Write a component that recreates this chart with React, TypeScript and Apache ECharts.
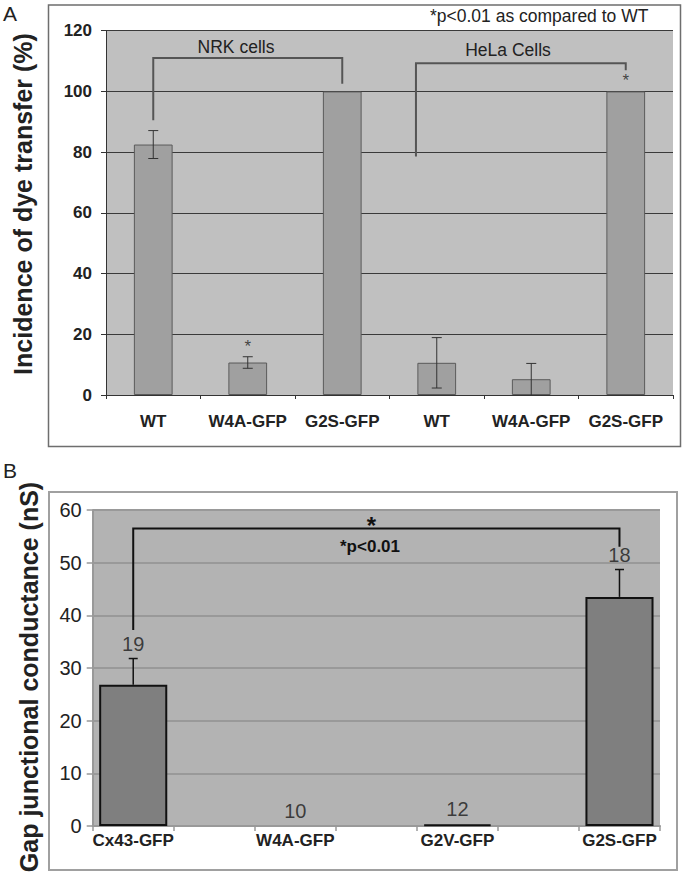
import React, { useEffect, useRef } from "react";
import * as echarts from "echarts";

// Panel A data
const catsA = ["WT", "W4A-GFP", "G2S-GFP", "WT", "W4A-GFP", "G2S-GFP"];
const valuesA = [82.5, 10.7, 100, 10.6, 5.2, 100];
const errA = [4.6, 1.9, 0, 8.3, 5.2, 0];
const starA = [false, true, false, false, false, true];
const ticksA = [0, 20, 40, 60, 80, 100, 120];
const nrkBracket = [[0, 90.5], [0, 111], [2, 111], [2, 102.5]];
const helaBracket = [[2.78, 78.6], [2.78, 109.3], [5, 109.3], [5, 107]];

// Panel B data
const catsB = ["Cx43-GFP", "", "W4A-GFP", "", "G2V-GFP", "", "G2S-GFP"];
const valuesB: (number | null)[] = [26.8, null, 0, null, 0.3, null, 43.5];
const errB: (number | null)[] = [5.0, null, 0, null, 0, null, 5.2];
const countsB = ["19", "", "10", "", "12", "", "18"];
const ticksB = [0, 10, 20, 30, 40, 50, 60];
const sigBracket = [[0, 37.2], [0, 56.5], [6, 56.5], [6, 53]];

const FONT = "'Liberation Sans', Arial, sans-serif";

export default function App() {
  const ref = useRef<HTMLDivElement>(null);
  useEffect(() => {
    if (!ref.current) return;
    const chart = echarts.init(ref.current, null, { renderer: "svg", width: 683, height: 872 });

    const errRender = (capHalf: number, color: string, width: number, both: boolean) =>
      (params: any, api: any) => {
        const x = api.value(0);
        const m = api.value(1);
        const e = api.value(2);
        if (!e) return null;
        const top = api.coord([x, m + e]);
        const bot = api.coord([x, both ? Math.max(0, m - e) : m]);
        const style = { stroke: color, lineWidth: width };
        const children: any[] = [
          { type: "line", shape: { x1: top[0], y1: top[1], x2: bot[0], y2: bot[1] }, style },
          { type: "line", shape: { x1: top[0] - capHalf, y1: top[1], x2: top[0] + capHalf, y2: top[1] }, style },
        ];
        if (both && m - e > 0) {
          children.push({ type: "line", shape: { x1: bot[0] - capHalf, y1: bot[1], x2: bot[0] + capHalf, y2: bot[1] }, style });
        }
        return { type: "group", children };
      };

    const bracketRender = (pts: number[][], color: string, width: number) => (params: any, api: any) => ({
      type: "polyline",
      shape: { points: pts.map((p) => api.coord(p)) },
      style: { stroke: color, lineWidth: width, fill: "none" },
    });

    const option: any = {
      animation: false,
      textStyle: { fontFamily: FONT },
      grid: [
        { left: 106, right: 10, top: 30.7, bottom: 477, show: true, backgroundColor: "#c0c0c0", borderWidth: 0 },
        { left: 92.7, right: 23, top: 510, bottom: 46, show: true, backgroundColor: "#b3b3b3", borderWidth: 0 },
      ],
      xAxis: [
        {
          type: "category", gridIndex: 0, data: catsA,
          axisLine: { onZero: false, lineStyle: { color: "#333", width: 1 } },
          axisTick: { show: true, length: 4, lineStyle: { color: "#333" } },
          axisLabel: { fontFamily: FONT, fontWeight: "bold", fontSize: 17, color: "#222", margin: 18, interval: 0 },
        },
        { type: "value", gridIndex: 0, min: -0.5, max: 5.5, show: false },
        {
          type: "category", gridIndex: 1, data: catsB,
          axisLine: { onZero: false, lineStyle: { color: "#999", width: 2 } },
          axisTick: { show: true, length: 5, interval: 0, lineStyle: { color: "#999", width: 1.5 } },
          axisLabel: { fontFamily: FONT, fontWeight: "bold", fontSize: 17, color: "#222", margin: 6, interval: 0 },
        },
        { type: "value", gridIndex: 1, min: -0.5, max: 6.5, show: false },
      ],
      yAxis: [
        {
          type: "value", gridIndex: 0, min: ticksA[0], max: ticksA[ticksA.length - 1], interval: 20,
          axisLine: { show: true, onZero: false, lineStyle: { color: "#333", width: 1 } },
          axisTick: { show: true, length: 5, lineStyle: { color: "#333" } },
          axisLabel: { fontFamily: FONT, fontWeight: "bold", fontSize: 17, color: "#222", margin: 14 },
          splitLine: { show: true, lineStyle: { color: "#3a3a3a", width: 1 } },
        },
        {
          type: "value", gridIndex: 1, min: ticksB[0], max: ticksB[ticksB.length - 1], interval: 10,
          axisLine: { show: true, onZero: false, lineStyle: { color: "#999", width: 2 } },
          axisTick: { show: true, length: 6, lineStyle: { color: "#999", width: 1.5 } },
          axisLabel: { fontFamily: FONT, fontSize: 20, color: "#222", margin: 11 },
          splitLine: { show: true, lineStyle: { color: "#999", width: 2 } },
        },
      ],
      series: [
        {
          type: "bar", xAxisIndex: 0, yAxisIndex: 0, data: valuesA, barWidth: "41%",
          itemStyle: { color: "#a0a0a0", borderColor: "#5a5a5a", borderWidth: 1 },
        },
        {
          type: "custom", xAxisIndex: 0, yAxisIndex: 0,
          data: valuesA.map((v, i) => [i, v, errA[i]]),
          renderItem: errRender(5, "#333", 1, true), z: 5,
        },
        {
          type: "scatter", xAxisIndex: 0, yAxisIndex: 0, symbolSize: 0,
          data: valuesA.map((v, i) => (starA[i] ? [i, v + errA[i]] : null)).filter(Boolean),
          label: { show: true, position: "top", distance: 2, formatter: "*", fontSize: 17, color: "#222", fontFamily: FONT },
        },
        {
          type: "custom", xAxisIndex: 1, yAxisIndex: 0, data: [[0, 0]], z: 6,
          renderItem: bracketRender(nrkBracket, "#555", 2),
        },
        {
          type: "custom", xAxisIndex: 1, yAxisIndex: 0, data: [[0, 0]], z: 6,
          renderItem: bracketRender(helaBracket, "#555", 2),
        },
        {
          type: "bar", xAxisIndex: 2, yAxisIndex: 1, barWidth: "84%",
          data: valuesB.map((v) => (v === null ? null : { value: v, itemStyle: v === 0 ? { borderWidth: 0 } : {} })),
          itemStyle: { color: "#7f7f7f", borderColor: "#111", borderWidth: 2 },
        },
        {
          type: "custom", xAxisIndex: 2, yAxisIndex: 1,
          data: valuesB.map((v, i) => (v === null ? null : [i, v, errB[i]])).filter(Boolean),
          renderItem: errRender(4.5, "#111", 1.5, false), z: 5,
        },
        {
          type: "scatter", xAxisIndex: 2, yAxisIndex: 1, symbolSize: 0,
          data: valuesB
            .map((v, i) => (v === null ? null : { value: [i, v + (errB[i] || 0)], name: countsB[i] }))
            .filter(Boolean),
          label: { show: true, position: "top", distance: 5, formatter: (p: any) => p.name, fontSize: 20, color: "#1a1a1a", fontFamily: FONT },
        },
        {
          type: "custom", xAxisIndex: 3, yAxisIndex: 1, data: [[0, 0]], z: 6,
          renderItem: bracketRender(sigBracket, "#111", 2),
        },
      ],
      graphic: [
        { type: "rect", shape: { x: 48.5, y: 5, width: 632, height: 441.5 }, style: { fill: "none", stroke: "#6e6e6e", lineWidth: 1.5 } },
        { type: "rect", shape: { x: 49, y: 492, width: 628, height: 378 }, style: { fill: "none", stroke: "#a0a0a0", lineWidth: 2 } },
        { type: "text", x: 10, y: 13, style: { text: "A", font: `21px ${FONT}`, fill: "#222", textAlign: "center", textVerticalAlign: "middle" } },
        { type: "text", x: 10, y: 470, style: { text: "B", font: `21px ${FONT}`, fill: "#222", textAlign: "center", textVerticalAlign: "middle" } },
        {
          type: "text", x: 23, y: 204, rotation: Math.PI / 2,
          style: { text: "Incidence of dye transfer (%)", font: `bold 25px ${FONT}`, fill: "#222", textAlign: "center", textVerticalAlign: "middle" },
        },
        {
          type: "text", x: 29, y: 677, rotation: Math.PI / 2,
          style: { text: "Gap junctional conductance (nS)", font: `bold 25px ${FONT}`, fill: "#222", textAlign: "center", textVerticalAlign: "middle" },
        },
        { type: "text", x: 430, y: 16, style: { text: "*p<0.01 as compared to WT", font: `17.5px ${FONT}`, fill: "#222", textAlign: "left", textVerticalAlign: "middle" } },
        { type: "text", x: 236, y: 47, style: { text: "NRK cells", font: `17.5px ${FONT}`, fill: "#222", textAlign: "center", textVerticalAlign: "middle" } },
        { type: "text", x: 508, y: 50, style: { text: "HeLa Cells", font: `17.5px ${FONT}`, fill: "#222", textAlign: "center", textVerticalAlign: "middle" } },
        { type: "text", x: 371.5, y: 525, style: { text: "*", font: `bold 24px ${FONT}`, fill: "#111", textAlign: "center", textVerticalAlign: "middle" } },
        { type: "text", x: 370, y: 546, style: { text: "*p<0.01", font: `bold 17px ${FONT}`, fill: "#111", textAlign: "center", textVerticalAlign: "middle" } },
      ],
    };
    chart.setOption(option);
    return () => chart.dispose();
  }, []);
  return <div ref={ref} style={{ position: "fixed", left: 0, top: 0, width: 683, height: 872, background: "#fff" }} />;
}
